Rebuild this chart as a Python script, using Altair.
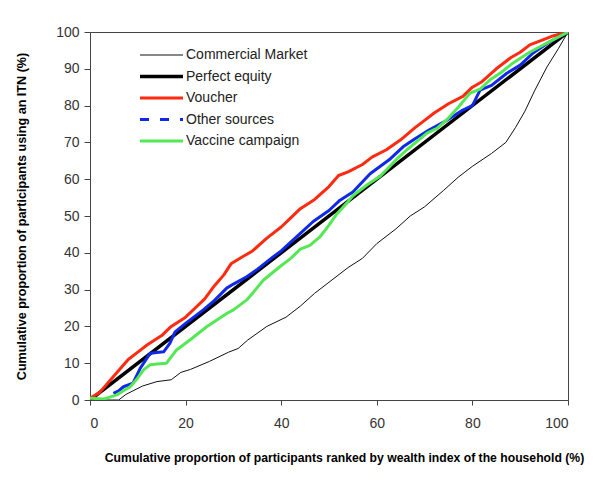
import altair as alt
import pandas as pd

series_names = ["Commercial Market", "Perfect equity", "Voucher", "Other sources", "Vaccine campaign"]

cm_x = [0, 6, 7.5, 9, 11, 14, 17, 19, 21, 25, 29, 31, 33, 37, 41, 44, 47, 50, 54, 57, 60, 64, 67, 70, 74, 77, 80, 84, 87, 89, 91, 93, 95.6, 98, 100]
cm_y = [0, 0, 1.5, 2.5, 3.8, 5, 5.5, 7.5, 8.3, 10.5, 13, 14, 16.3, 20, 22.5, 25.5, 29, 32, 36, 38.5, 42.5, 46.5, 50, 52.5, 57, 60.5, 63.5, 67, 70, 74, 78.5, 84, 90.5, 95.5, 100]

pe_x = [0, 100]
pe_y = [0, 100]

v_x = [0, 2, 4, 6, 8, 10, 12, 15, 17, 20, 22, 24, 26, 28, 29.5, 32, 34, 37, 40, 42, 44, 47, 50, 52, 54, 57, 59, 62, 65, 68, 70, 72, 75, 78, 80, 82, 85, 88, 90, 92, 95, 97, 100]
v_y = [0.5, 2, 5, 8, 11, 13, 15, 17.5, 20, 22.5, 25, 27.5, 31, 34, 37, 39, 40.5, 44, 47, 49.5, 52, 54.5, 58, 61, 62, 64, 66, 68, 70.7, 74, 76, 78, 80.5, 82.5, 85, 86.5, 90, 93, 94.5, 96.5, 98, 99, 100]

o_x = [4.9, 6, 7, 9, 10.5, 12.6, 15.4, 16.7, 17.8, 20, 23.7, 26, 28.6, 30, 32.8, 35, 38.3, 40, 43.2, 46.7, 50, 52.3, 55, 58.6, 62.8, 65.5, 68, 71, 74, 78, 80, 81.6, 84, 87.2, 90, 92.7, 95.6, 100]
o_y = [1.8, 2.5, 3.6, 4.6, 8.6, 12.7, 13.1, 15.4, 18.5, 20.8, 24.5, 27, 30.4, 31.5, 33.5, 35.5, 38.9, 40.5, 44.3, 48.5, 51.5, 54.3, 56.5, 61.5, 65.5, 68.8, 71, 73.4, 75.5, 78.8, 80, 84.2, 85.5, 88.8, 91, 94.3, 96.9, 100]

g_x = [0, 3, 5.6, 7, 8.4, 10, 11.2, 12.6, 14, 16, 18.1, 20.9, 24.4, 28.6, 30, 32.8, 34, 36.3, 39.7, 42, 44, 46, 48.1, 50, 51.6, 53.7, 55, 58, 60.7, 64.2, 66.3, 70.5, 72.6, 74.6, 77, 79.5, 81.6, 83.7, 86, 88.5, 92, 95.6, 100]
g_y = [0.5, 0.3, 1.4, 2.5, 3.6, 6, 8.2, 9.6, 9.8, 10, 13.6, 16.3, 19.9, 23.5, 24.5, 27.2, 29, 32.6, 36.2, 38.5, 41, 42, 44.3, 47.5, 50.5, 53.5, 55.5, 58.5, 60.8, 65.5, 68, 72.5, 73.8, 76.1, 79.5, 83.4, 84.5, 87, 89, 91.6, 94.5, 97, 100]

x_ticks = [0, 20, 40, 60, 80, 100]
y_ticks = [0, 10, 20, 30, 40, 50, 60, 70, 80, 90, 100]

colors = ["#111111", "#000000", "#ff2a10", "#1028e8", "#55e855"]
widths = [1, 3.5, 3, 3, 3]
legend_dash = [[1, 0], [1, 0], [1, 0], [9, 11], [1, 0]]

xs = [cm_x, pe_x, v_x, o_x, g_x]
ys = [cm_y, pe_y, v_y, o_y, g_y]

rows = []
for name, sx, sy in zip(series_names, xs, ys):
    for a, b in zip(sx, sy):
        rows.append({"series": name, "x": a, "y": b})
df = pd.DataFrame(rows)

leg = pd.DataFrame({"series": series_names, "row": list(range(len(series_names)))})

FONT = "Liberation Sans"

x_enc = alt.X("x:Q", scale=alt.Scale(domain=[0, 100], nice=False),
              axis=alt.Axis(values=x_ticks, title="Cumulative proportion of participants ranked by wealth index of the household (%)",
                            titleX=254, titleY=57, titleBaseline="middle", titleAnchor=None, titleFontSize=12.2))
y_enc = alt.Y("y:Q", scale=alt.Scale(domain=[0, 100], nice=False),
              axis=alt.Axis(values=y_ticks, title="Cumulative proportion of participants using an ITN (%)",
                            titleX=-62, titleY=184, titleAngle=-90, titleBaseline="bottom", titleFontSize=12.6))

layers = []
for i, name in enumerate(series_names):
    layers.append(
        alt.Chart(df).transform_filter(alt.datum.series == name)
        .mark_line(color=colors[i], strokeWidth=widths[i], strokeJoin="round", clip=True)
        .encode(x=x_enc, y=y_enc, order=alt.Order("x:Q"))
    )

for i, name in enumerate(series_names):
    layers.append(
        alt.Chart(leg).transform_filter(alt.datum.series == name)
        .transform_calculate(ly="23 + datum.row * 21.5")
        .mark_rule(color=colors[i], strokeWidth=widths[i], strokeDash=legend_dash[i])
        .encode(x=alt.value(50), x2=alt.value(93), y=alt.Y("ly:Q", scale=None, axis=None))
    )

layers.append(
    alt.Chart(leg).transform_calculate(ly="23 + datum.row * 21.5")
    .mark_text(align="left", baseline="middle", fontSize=14, font=FONT, color="#222222")
    .encode(x=alt.value(96), y=alt.Y("ly:Q", scale=None, axis=None), text="series:N")
)

chart = alt.layer(*layers).properties(
    width=478, height=368,
    autosize=alt.AutoSizeParams(type="none"),
    padding={"left": 82, "top": 24, "right": 20, "bottom": 70},
).configure_view(stroke="#444444", strokeWidth=1).configure_axis(
    grid=False, domainColor="#444444", tickColor="#444444", tickSize=5,
    labelFont=FONT, labelFontSize=14, labelColor="#333333",
    titleFont=FONT, titleFontWeight="bold", titleColor="#000000",
).configure_axisX(labelPadding=11).configure_axisY(labelPadding=5, tickSize=6)

chart.save("out.html", embed_options={"renderer": "svg", "actions": False})
